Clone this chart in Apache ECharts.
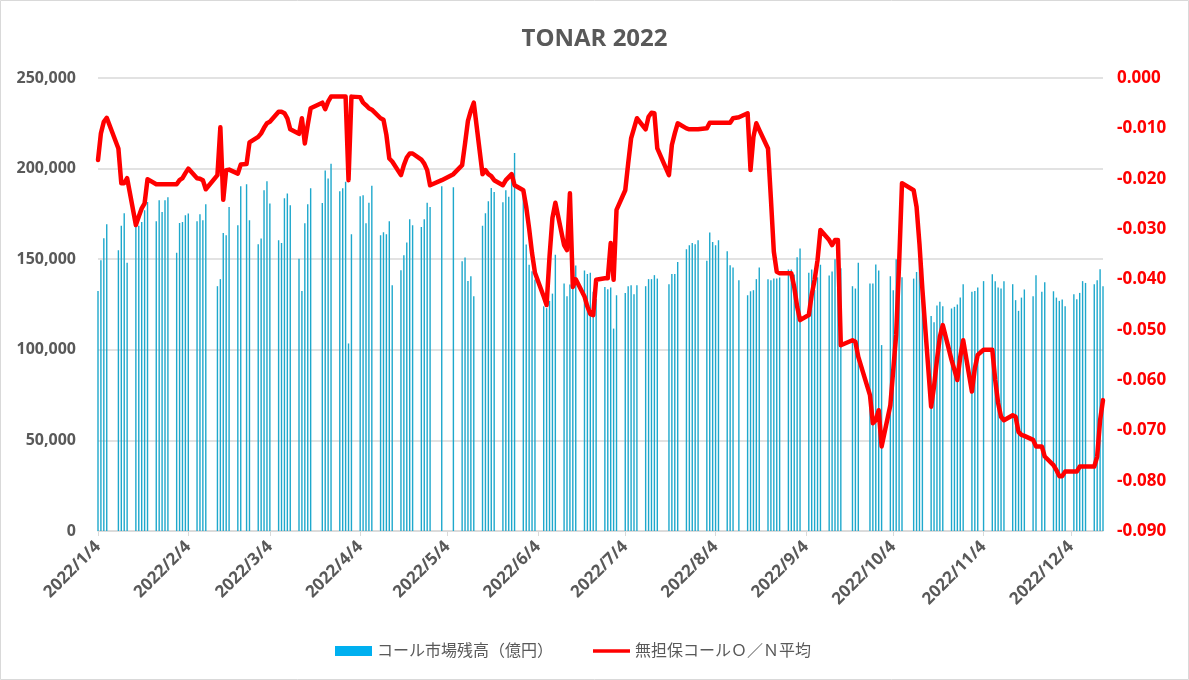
<!DOCTYPE html>
<html>
<head>
<meta charset="utf-8">
<script src="https://cdn.jsdelivr.net/npm/echarts@6/dist/echarts.min.js"></script>
<style>
html,body{margin:0;padding:0;background:#fff}
#chart{width:1189px;height:680px}
</style>
</head>
<body>
<div id="chart"></div>
<script>
// business days of 2022, one row per month
var days = [
	[4,5,6,7,11,12,13,14,17,18,19,20,21,24,25,26,27,28,31],
	[1,2,3,4,7,8,9,10,14,15,16,17,18,21,22,24,25,28],
	[1,2,3,4,7,8,9,10,11,14,15,16,17,18,22,23,24,25,28,29,30,31],
	[1,4,5,6,7,8,11,12,13,14,15,18,19,20,21,22,25,26,27,28],
	[2,6,9,10,11,12,13,16,17,18,19,20,23,24,25,26,27,30,31],
	[1,2,3,6,7,8,9,10,13,14,15,16,17,20,21,22,23,24,27,28,29,30],
	[1,4,5,6,7,8,11,12,13,14,15,19,20,21,22,25,26,27,28,29],
	[1,2,3,4,5,8,9,10,12,15,16,17,18,19,22,23,24,25,26,29,30,31],
	[1,2,5,6,7,8,9,12,13,14,15,16,20,21,22,26,27,28,29,30],
	[3,4,5,6,7,11,12,13,14,17,18,19,20,21,24,25,26,27,28,31],
	[1,2,4,7,8,9,10,11,14,15,16,17,18,21,22,24,25,28,29,30],
	[1,2,5,6,7,8,9,12,13,14,15]
];

// コール市場残高（億円）
var balance = [
	[132500,149400,161600,169300,155000,168400,175300,148000,169500,168500,170500,177000,181600,171000,182500,176000,182500,184200,153500],
	[170000,170500,174200,175200,171000,174800,171500,180300,135100,139000,164500,163200,178800,168700,190200,191300,171500,158300],
	[161400,188000,193000,180700,160500,159000,183600,186200,179800,150300,132500,169800,180300,189100,181000,199000,194600,202700,187500,189100,192800,103500],
	[163800,184700,185300,169800,181200,190600,163200,164900,163800,171000,135600,143900,152200,159200,172000,168700,167800,172000,181200,178800],
	[190200,189700,148900,150900,138000,140600,129600,168400,175300,182000,189300,187100,181400,188000,184400,195400,208600,188000,158100],
	[147000,143400,138800,124000,123000,127000,131000,152500,136600,129600,136000,137000,146500,143800,141900,142500,132000,128000,134600,133400,134400,111700],
	[130100,131400,135100,135600,130700,135600,135100,139000,139000,141200,139300,136200,141800,141800,148500,155500,157700,159000,158200,160500],
	[149100,164700,159500,157700,160500,154400,146700,145400,138400,130100,132300,132900,139000,145400,139000,138400,139300,139300,139900,144300,144300,141500],
	[151100,155900,142500,144300,133000,140000,147000,141000,143200,150000,156000,145000,135100,133800,148000,136600,136600,147100,143800,102600],
	[140600,132900,150000,146000,140000,139300,143000,150000,145000,118600,115200,124400,126500,124100,122800,123700,125000,128800,136200,132000],
	[132500,134400,137900,141700,137900,134400,133800,137900,136200,127400,121500,128800,133300,129600,141200,132000,137300,132300,128800,127000],
	[127700,124100,130700,127900,131400,137900,136900,136200,138400,144500,135100]
];

// 無担保コールＯ／Ｎ平均
var rate = [
	[-0.0163,-0.0110,-0.0087,-0.0079,-0.0140,-0.0209,-0.0209,-0.0199,-0.0292,-0.0275,-0.0259,-0.0249,-0.0201,-0.0211,-0.0211,-0.0211,-0.0211,-0.0211,-0.0211],
	[-0.0203,-0.0199,-0.0189,-0.0180,-0.0199,-0.0200,-0.0203,-0.0221,-0.0193,-0.0098,-0.0242,-0.0183,-0.0182,-0.0190,-0.0172,-0.0171,-0.0128,-0.0117],
	[-0.0110,-0.0099,-0.0090,-0.0087,-0.0067,-0.0067,-0.0070,-0.0080,-0.0102,-0.0111,-0.0080,-0.0130,-0.0093,-0.0060,-0.0049,-0.0062,-0.0047,-0.0037,-0.0037,-0.0037,-0.0037,-0.0203],
	[-0.0037,-0.0038,-0.0049,-0.0054,-0.0060,-0.0063,-0.0080,-0.0083,-0.0113,-0.0160,-0.0166,-0.0193,-0.0173,-0.0158,-0.0150,-0.0150,-0.0162,-0.0170,-0.0183,-0.0213],
	[-0.0203,-0.0191,-0.0173,-0.0130,-0.0085,-0.0065,-0.0049,-0.0191,-0.0183,-0.0191,-0.0195,-0.0203,-0.0213,-0.0203,-0.0197,-0.0191,-0.0213,-0.0223,-0.0256],
	[-0.0299,-0.0348,-0.0387,-0.0434,-0.0451,-0.0355,-0.0278,-0.0248,-0.0332,-0.0342,-0.0229,-0.0415,-0.0400,-0.0434,-0.0454,-0.0469,-0.0471,-0.0401,-0.0398,-0.0398,-0.0328,-0.0401],
	[-0.0262,-0.0223,-0.0170,-0.0120,-0.0100,-0.0080,-0.0102,-0.0077,-0.0069,-0.0070,-0.0140,-0.0193,-0.0133,-0.0110,-0.0090,-0.0100,-0.0102,-0.0102,-0.0102,-0.0102],
	[-0.0100,-0.0089,-0.0089,-0.0089,-0.0089,-0.0089,-0.0089,-0.0080,-0.0078,-0.0070,-0.0183,-0.0117,-0.0090,-0.0103,-0.0140,-0.0240,-0.0345,-0.0385,-0.0388,-0.0388,-0.0388,-0.0415],
	[-0.0454,-0.0481,-0.0471,-0.0431,-0.0401,-0.0362,-0.0302,-0.0322,-0.0332,-0.0322,-0.0322,-0.0531,-0.0521,-0.0524,-0.0554,-0.0630,-0.0686,-0.0680,-0.0660,-0.0732],
	[-0.0650,-0.0580,-0.0510,-0.0370,-0.0209,-0.0223,-0.0256,-0.0330,-0.0420,-0.0653,-0.0613,-0.0560,-0.0514,-0.0491,-0.0560,-0.0580,-0.0600,-0.0554,-0.0521,-0.0623],
	[-0.0577,-0.0550,-0.0540,-0.0540,-0.0600,-0.0646,-0.0673,-0.0680,-0.0670,-0.0673,-0.0703,-0.0709,-0.0711,-0.0719,-0.0732,-0.0732,-0.0752,-0.0769,-0.0779,-0.0791],
	[-0.0791,-0.0782,-0.0782,-0.0782,-0.0772,-0.0772,-0.0772,-0.0772,-0.0752,-0.0680,-0.0640]
];

var tickLabels = ['2022/1/4','2022/2/4','2022/3/4','2022/4/4','2022/5/4','2022/6/4',
	'2022/7/4','2022/8/4','2022/9/4','2022/10/4','2022/11/4','2022/12/4'];

function toTime(s) {
	var p = s.split('/');
	return new Date(+p[0], +p[1] - 1, +p[2]).getTime();
}

var barData = [], lineData = [];
for (var m = 0; m < days.length; m++) {
	for (var i = 0; i < days[m].length; i++) {
		var t = new Date(2022, m, days[m][i]).getTime();
		barData.push([t, balance[m][i]]);
		lineData.push([t, rate[m][i]]);
	}
}
var tickValues = tickLabels.map(toTime);

var font = "'Open Sans', 'Noto Sans CJK JP', sans-serif";
var grey = '#595959';

var option = {
	animation: false,
	backgroundColor: '#fff',
	textStyle: { fontFamily: font },
	graphic: [{
		type: 'rect',
		shape: { x: 0.5, y: 0.5, width: 1188, height: 679 },
		style: { fill: 'none', stroke: '#d9d9d9', lineWidth: 1 }
	}],
	title: {
		text: 'TONAR 2022',
		left: 'center',
		top: 22,
		textStyle: { fontFamily: font, fontSize: 24, fontWeight: 'bold', color: grey }
	},
	legend: {
		left: 330,
		top: 638,
		itemWidth: 37,
		itemHeight: 10,
		itemGap: 40,
		textStyle: { fontFamily: font, fontSize: 16, color: grey },
		data: [
			{ name: 'コール市場残高（億円）', icon: 'rect', itemStyle: { color: '#00b0f0' } },
			{ name: '無担保コールＯ／Ｎ平均', icon: 'path://M0,0h40v4h-40z', itemStyle: { color: '#ff0000' } }
		]
	},
	grid: { left: 98, right: 86, top: 78, bottom: 149 },
	xAxis: {
		type: 'value',
		min: toTime('2022/1/4'),
		max: toTime('2022/12/15'),
		axisLine: { lineStyle: { color: '#d9d9d9', width: 1.5 } },
		axisTick: { show: true, customValues: tickValues, length: 5, lineStyle: { color: '#d9d9d9' } },
		splitLine: { show: false },
		axisLabel: {
			customValues: tickValues,
			rotate: 45,
			margin: 13,
			fontFamily: font,
			fontSize: 17,
			fontWeight: 'bold',
			color: grey,
			formatter: function (v) {
				var d = new Date(v);
				return d.getFullYear() + '/' + (d.getMonth() + 1) + '/' + d.getDate();
			}
		}
	},
	yAxis: [{
		type: 'value',
		min: 0,
		max: 250000,
		interval: 50000,
		axisLine: { show: false },
		axisTick: { show: false },
		splitLine: { lineStyle: { color: '#d9d9d9', width: 1.5 } },
		axisLabel: {
			margin: 22,
			fontFamily: font,
			fontSize: 16,
			fontWeight: 'bold',
			color: grey,
			formatter: function (v) { return v.toLocaleString('en-US'); }
		}
	}, {
		type: 'value',
		min: -0.09,
		max: 0,
		interval: 0.01,
		axisLine: { show: false },
		axisTick: { show: false },
		splitLine: { show: false },
		axisLabel: {
			margin: 14,
			fontFamily: font,
			fontSize: 17,
			fontWeight: 'bold',
			color: '#ff0000',
			formatter: function (v) {
				if (Math.abs(v) < 1e-9) return '0.000';
				return v.toFixed(3);
			}
		}
	}],
	series: [{
		name: 'コール市場残高（億円）',
		type: 'bar',
		data: barData,
		barWidth: 1.4,
		itemStyle: { color: '#1ea8cc' }
	}, {
		name: '無担保コールＯ／Ｎ平均',
		type: 'line',
		yAxisIndex: 1,
		data: lineData,
		symbol: 'none',
		z: 5,
		lineStyle: { color: '#ff0000', width: 4.5, join: 'round', cap: 'round' },
		itemStyle: { color: '#ff0000' }
	}]
};

var chart = echarts.init(document.getElementById('chart'));
chart.setOption(option);
</script>
</body>
</html>
